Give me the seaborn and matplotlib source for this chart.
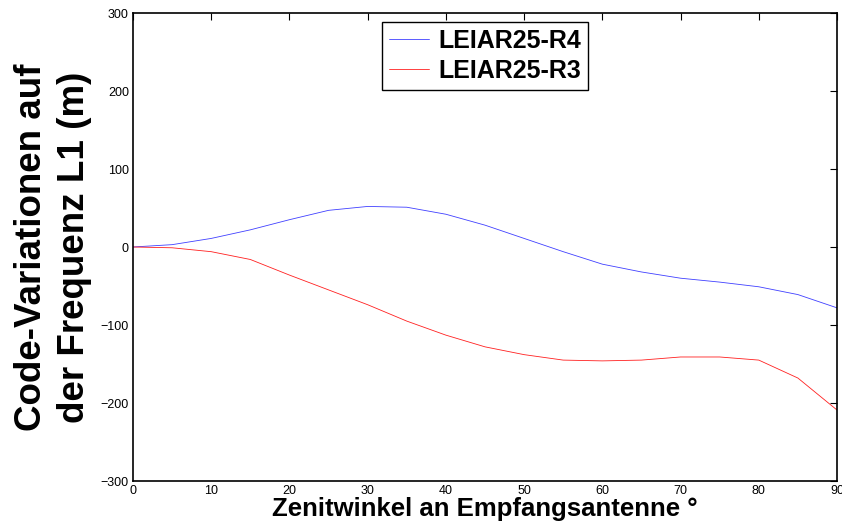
import matplotlib
matplotlib.use("Agg")
import matplotlib.pyplot as plt
import seaborn as sns
import pandas as pd

zenith = [0, 5, 10, 15, 20, 25, 30, 35, 40, 45, 50, 55, 60, 65, 70, 75, 80, 85, 90]
r4 = [0, 3, 11, 22, 35, 47, 52, 51, 42, 28, 11, -6, -22, -32, -40, -45, -51, -61, -78]
r3 = [0, -1, -6, -16, -36, -55, -74, -95, -113, -128, -138, -145, -146, -145, -141, -141, -145, -168, -209]
series_names = ["LEIAR25-R4", "LEIAR25-R3"]
xticks = [0, 10, 20, 30, 40, 50, 60, 70, 80, 90]
yticks = [-300, -200, -100, 0, 100, 200, 300]

sns.set_theme(style="white")
plt.rcParams['font.family'] = ['Liberation Sans', 'DejaVu Sans']
plt.rcParams['text.color'] = 'black'
plt.rcParams['axes.labelcolor'] = 'black'
plt.rcParams['xtick.color'] = 'black'
plt.rcParams['ytick.color'] = 'black'

df = pd.DataFrame({
    "x": zenith + zenith,
    "y": r4 + r3,
    "s": [series_names[0]] * len(zenith) + [series_names[1]] * len(zenith),
})

fig = plt.figure(figsize=(8.42, 5.29), dpi=100)
ax = fig.add_axes([133/842, 1 - 481/529, (837-133)/842, (481-13)/529])

sns.lineplot(data=df, x="x", y="y", hue="s", palette=["#4040ff", "#ff2020"],
             linewidth=0.6, ax=ax, legend=True)

ax.set_xlim(0, 90)
ax.set_ylim(-300, 300)
ax.set_xticks(xticks)
ax.set_yticks(yticks)
ax.tick_params(direction="in", length=5, width=0.8, top=True, right=True,
               labelsize=9, colors="black", pad=3)
for sp in ax.spines.values():
    sp.set_visible(True)
    sp.set_color("black")
    sp.set_linewidth(1.2)

ax.set_xlabel("Zenitwinkel an Empfangsantenne °", fontsize=18.5, fontweight="bold",
              labelpad=0, color="black")
ax.set_ylabel("Code-Variationen auf\nder Frequenz L1 (m)", fontsize=26.5, fontweight="bold",
              linespacing=1.3, labelpad=6, color="black")

leg = ax.legend(loc="upper left", bbox_to_anchor=(0.354, 0.981), borderaxespad=0,
                fancybox=False, framealpha=1, edgecolor="black",
                prop={"weight": "bold", "size": 18}, handlelength=1.6, handletextpad=0.35,
                borderpad=0.28, labelspacing=0.25, title=None)
leg.get_frame().set_linewidth(1.0)
for line in leg.get_lines():
    line.set_linewidth(0.6)
for t in leg.get_texts():
    t.set_color("black")

fig.savefig("out.png", dpi=100)
